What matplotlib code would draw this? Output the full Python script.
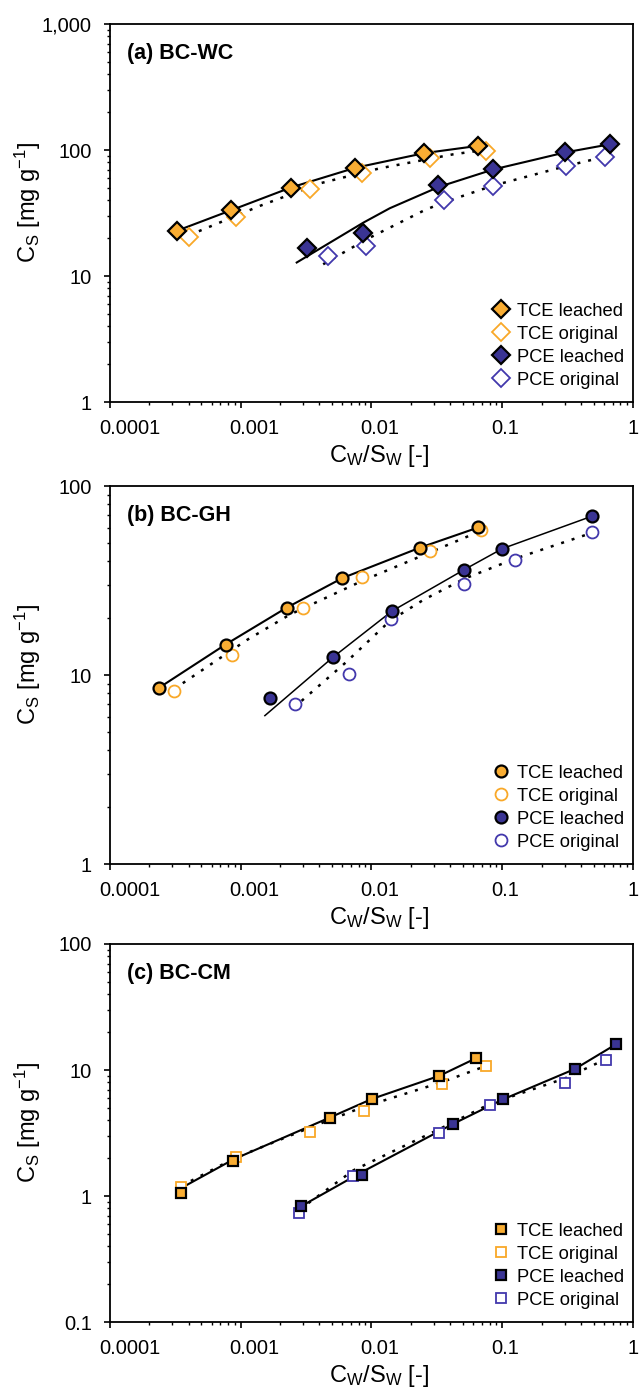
import numpy as np
import matplotlib
matplotlib.use('Agg')
import matplotlib.pyplot as plt
from matplotlib.ticker import FixedLocator, FixedFormatter, LogLocator, NullFormatter
from matplotlib.transforms import ScaledTranslation

plt.rcParams['font.family'] = ['Liberation Sans', 'DejaVu Sans']
plt.rcParams['mathtext.fontset'] = 'custom'
plt.rcParams['mathtext.rm'] = 'Liberation Sans'
plt.rcParams['mathtext.it'] = 'Liberation Sans'

# ---- panel (a) BC-WC : measured points ----
a_tce_l_x = [3.23e-4, 8.47e-4, 2.42e-3, 7.53e-3, 0.0254, 0.0658]
a_tce_l_y = [22.8, 33.3, 50.4, 72.3, 94.5, 108]
a_tce_o_x = [4.0e-4, 9.16e-4, 3.37e-3, 8.5e-3, 0.0282, 0.0754]
a_tce_o_y = [20.5, 29.5, 48.6, 65.2, 86.8, 98.6]
a_pce_l_x = [3.24e-3, 8.57e-3, 0.0321, 0.0855, 0.303, 0.665]
a_pce_l_y = [16.8, 22.0, 53.2, 70.1, 95.7, 111]
a_pce_o_x = [4.63e-3, 9.14e-3, 0.036, 0.0843, 0.307, 0.607]
a_pce_o_y = [14.4, 17.2, 40.0, 52.0, 74.5, 88.4]
# fitted curves
a_tce_fit_l_x = [3.23e-4, 8.47e-4, 2.42e-3, 7.53e-3, 0.0254, 0.0658]
a_tce_fit_l_y = [22.8, 33.3, 50.4, 72.3, 94.5, 108]
a_tce_fit_o_x = [4.0e-4, 1.4e-3, 4.04e-3, 0.0116, 0.0423, 0.068]
a_tce_fit_o_y = [21.0, 36.0, 54.4, 71.6, 92.5, 99.0]
a_pce_fit_l_x = [2.68e-3, 8.65e-3, 0.0138, 0.0328, 0.0855, 0.173, 0.303, 0.665]
a_pce_fit_l_y = [12.8, 26.5, 34.5, 51.0, 70.1, 83.3, 95.7, 111]
a_pce_fit_o_x = [4.27e-3, 9.2e-3, 0.0256, 0.036, 0.0843, 0.307, 0.607]
a_pce_fit_o_y = [12.4, 19.6, 33.4, 38.5, 52.0, 74.5, 88.4]

# ---- panel (b) BC-GH ----
b_tce_l_x = [2.39e-4, 7.65e-4, 2.24e-3, 6.0e-3, 0.0233, 0.0658]
b_tce_l_y = [8.59, 14.5, 22.7, 32.6, 47.1, 60.4]
b_tce_o_x = [3.07e-4, 8.53e-4, 3.0e-3, 8.5e-3, 0.0279, 0.069]
b_tce_o_y = [8.28, 12.8, 22.6, 33.0, 45.1, 58.7]
b_pce_l_x = [1.68e-3, 5.06e-3, 0.01436, 0.0512, 0.1, 0.49]
b_pce_l_y = [7.6, 12.4, 21.8, 36.1, 46.6, 69.4]
b_pce_o_x = [2.62e-3, 6.78e-3, 0.014, 0.0512, 0.125, 0.482]
b_pce_o_y = [7.0, 10.1, 19.8, 30.3, 40.6, 56.8]
b_tce_fit_l_x = [2.39e-4, 7.65e-4, 2.24e-3, 6.0e-3, 0.0233, 0.0658]
b_tce_fit_l_y = [8.59, 14.5, 22.7, 32.6, 47.1, 60.4]
b_tce_fit_o_x = [3.07e-4, 1.11e-3, 2.38e-3, 8.5e-3, 0.0279, 0.069]
b_tce_fit_o_y = [8.4, 15.3, 20.9, 31.5, 44.5, 58.0]
b_pce_fit_l_x = [1.53e-3, 5.06e-3, 0.01436, 0.0512, 0.1, 0.49]
b_pce_fit_l_y = [6.1, 12.4, 21.8, 36.1, 46.6, 69.4]
b_pce_fit_o_x = [2.92e-3, 6.4e-3, 0.0139, 0.025, 0.0512, 0.1245, 0.466]
b_pce_fit_o_y = [7.3, 11.7, 19.4, 25.0, 32.3, 41.2, 56.0]

# ---- panel (c) BC-CM ----
c_tce_l_x = [3.47e-4, 8.77e-4, 4.81e-3, 0.0101, 0.0331, 0.063]
c_tce_l_y = [1.06, 1.89, 4.18, 5.84, 9.0, 12.4]
c_tce_o_x = [3.47e-4, 9.16e-4, 3.37e-3, 8.69e-3, 0.0345, 0.0754]
c_tce_o_y = [1.18, 2.05, 3.23, 4.72, 7.68, 10.8]
c_pce_l_x = [2.9e-3, 8.45e-3, 0.0422, 0.101, 0.36, 0.741]
c_pce_l_y = [0.83, 1.48, 3.74, 5.84, 10.2, 16.0]
c_pce_o_x = [2.81e-3, 7.28e-3, 0.0331, 0.081, 0.303, 0.62]
c_pce_o_y = [0.74, 1.44, 3.19, 5.26, 7.92, 12.1]
c_tce_fit_l_x = [3.47e-4, 8.77e-4, 4.81e-3, 0.0101, 0.0331, 0.063]
c_tce_fit_l_y = [1.15, 1.95, 4.2, 5.9, 9.0, 12.4]
c_tce_fit_o_x = [3.5e-4, 9.0e-4, 3.4e-3, 8.7e-3, 0.0345, 0.072]
c_tce_fit_o_y = [1.2, 2.0, 3.5, 5.1, 8.0, 10.6]
c_pce_fit_l_x = [2.9e-3, 8.45e-3, 0.0422, 0.101, 0.36, 0.741]
c_pce_fit_l_y = [0.83, 1.55, 3.74, 5.84, 10.2, 16.0]
c_pce_fit_o_x = [2.81e-3, 7.28e-3, 0.0331, 0.081, 0.303, 0.62]
c_pce_fit_o_y = [0.78, 1.6, 3.4, 5.4, 8.6, 12.2]

labels = ['TCE leached', 'TCE original', 'PCE leached', 'PCE original']
x_ticks = [0.0001, 0.001, 0.01, 0.1, 1]
x_ticklabels = ['0.0001', '0.001', '0.01', '0.1', '1']

ORANGE = '#F9AD33'
ORANGE_EDGE = '#F9A828'
NAVY = '#3A3494'
NAVY_EDGE = '#4238AC'
TICK_FS = 14.5

panels = [
    dict(title='(a) BC-WC', marker='D', ms=8.8, ylim=(1, 1000), pce_lw=1.5,
         yticks=[1, 10, 100, 1000], yticklabels=['1', '10', '100', '1,000'],
         pts=[(a_tce_l_x, a_tce_l_y), (a_tce_o_x, a_tce_o_y), (a_pce_l_x, a_pce_l_y), (a_pce_o_x, a_pce_o_y)],
         fits=[(a_tce_fit_l_x, a_tce_fit_l_y), (a_tce_fit_o_x, a_tce_fit_o_y),
               (a_pce_fit_l_x, a_pce_fit_l_y), (a_pce_fit_o_x, a_pce_fit_o_y)],
         pos=[0.1721, 0.7118, 0.8185, 0.271]),
    dict(title='(b) BC-GH', marker='o', ms=8.6, ylim=(1, 100), pce_lw=1.1,
         yticks=[1, 10, 100], yticklabels=['1', '10', '100'],
         pts=[(b_tce_l_x, b_tce_l_y), (b_tce_o_x, b_tce_o_y), (b_pce_l_x, b_pce_l_y), (b_pce_o_x, b_pce_o_y)],
         fits=[(b_tce_fit_l_x, b_tce_fit_l_y), (b_tce_fit_o_x, b_tce_fit_o_y),
               (b_pce_fit_l_x, b_pce_fit_l_y), (b_pce_fit_o_x, b_pce_fit_o_y)],
         pos=[0.1721, 0.3806, 0.8185, 0.271]),
    dict(title='(c) BC-CM', marker='s', ms=7.8, ylim=(0.1, 100), pce_lw=1.5,
         yticks=[0.1, 1, 10, 100], yticklabels=['0.1', '1', '10', '100'],
         pts=[(c_tce_l_x, c_tce_l_y), (c_tce_o_x, c_tce_o_y), (c_pce_l_x, c_pce_l_y), (c_pce_o_x, c_pce_o_y)],
         fits=[(c_tce_fit_l_x, c_tce_fit_l_y), (c_tce_fit_o_x, c_tce_fit_o_y),
               (c_pce_fit_l_x, c_pce_fit_l_y), (c_pce_fit_o_x, c_pce_fit_o_y)],
         pos=[0.1721, 0.0523, 0.8185, 0.271]),
]

fig = plt.figure(figsize=(6.39, 13.95), dpi=100)
# shift of one "0" glyph, so the decimal point sits on the tick (Excel style)
zero_shift = ScaledTranslation(-0.556 * TICK_FS / 72, 0, fig.dpi_scale_trans)

for p in panels:
    ax = fig.add_axes(p['pos'])
    ax.set_xscale('log')
    ax.set_yscale('log')
    ax.set_xlim(1e-4, 1)
    ax.set_ylim(*p['ylim'])

    # fitted lines: solid for leached, dotted for original
    for i, (fx, fy) in enumerate(p['fits']):
        if i % 2 == 0:
            lw = 1.5 if i == 0 else p['pce_lw']
            ax.plot(fx, fy, color='black', lw=lw, ls='-', zorder=2)
        else:
            ax.plot(fx, fy, color='black', lw=1.8, ls=(0, (1.2, 3.2)), zorder=2)

    m = p['marker']
    ms = p['ms']
    styles = [
        dict(mfc=ORANGE, mec='black', mew=1.6, zorder=4),
        dict(mfc='white', mec=ORANGE_EDGE, mew=1.3, zorder=3),
        dict(mfc=NAVY, mec='black', mew=1.6, zorder=4),
        dict(mfc='white', mec=NAVY_EDGE, mew=1.3, zorder=3),
    ]
    handles = []
    for (px, py), st, lab in zip(p['pts'], styles, labels):
        h, = ax.plot(px, py, ls='none', marker=m, ms=ms, label=lab, **st)
        handles.append(h)

    ax.xaxis.set_major_locator(FixedLocator(x_ticks))
    ax.xaxis.set_major_formatter(FixedFormatter(x_ticklabels))
    ax.xaxis.set_minor_locator(LogLocator(base=10, subs=np.arange(2, 10)))
    ax.xaxis.set_minor_formatter(NullFormatter())
    ax.yaxis.set_major_locator(FixedLocator(p['yticks']))
    ax.yaxis.set_major_formatter(FixedFormatter(p['yticklabels']))
    ax.yaxis.set_minor_locator(LogLocator(base=10, subs=np.arange(2, 10)))
    ax.yaxis.set_minor_formatter(NullFormatter())
    ax.tick_params(which='major', direction='out', length=4, width=1.2, labelsize=TICK_FS)
    ax.tick_params(which='minor', direction='out', length=2.5, width=1.0)
    ax.tick_params(axis='x', which='major', pad=8)
    ax.tick_params(axis='y', which='major', pad=9)
    for s in ax.spines.values():
        s.set_linewidth(1.3)

    for lbl in ax.get_xticklabels():
        if '.' in lbl.get_text():
            lbl.set_ha('left')
            lbl.set_transform(lbl.get_transform() + zero_shift)

    ax.set_xlabel(r'C$_\mathregular{W}$/S$_\mathregular{W}$ [-]', fontsize=17)
    ax.set_ylabel(r'C$_\mathregular{S}$ [mg g$^\mathregular{-1}$]', fontsize=17)
    ax.xaxis.set_label_coords(0.515, -0.108)
    ax.yaxis.set_label_coords(-0.128, 0.529)
    ax.text(0.033, 0.922, p['title'], transform=ax.transAxes, fontsize=15.5,
            fontweight='bold', ha='left', va='center')

    ax.legend(handles=handles, loc='lower left', bbox_to_anchor=(0.73, 0.035),
              frameon=False, fontsize=13.2, handlelength=1.0, handletextpad=0.35,
              labelspacing=0.33, borderpad=0, borderaxespad=0)

fig.savefig('out.png', dpi=100)
